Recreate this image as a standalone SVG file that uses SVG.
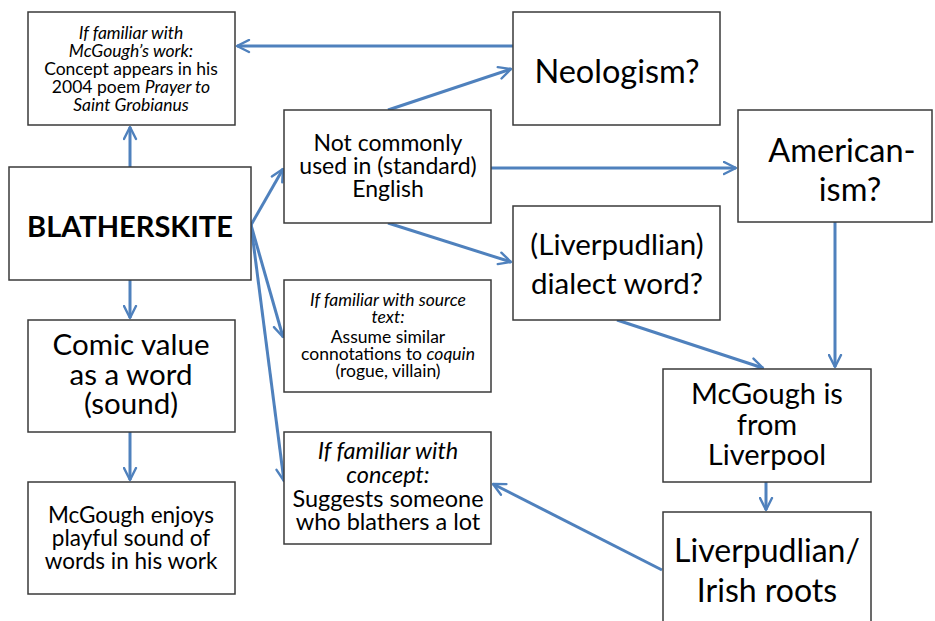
<svg xmlns="http://www.w3.org/2000/svg" width="935" height="621" viewBox="0 0 935 621">
  <defs>
    <marker id="arrow" viewBox="0 0 10 10" refX="9" refY="5" markerWidth="5" markerHeight="5" orient="auto" markerUnits="strokeWidth">
      <path d="M1,1 L9,5 L1,9" fill="none" stroke="#4f81bd" stroke-width="1.6" stroke-linecap="round" stroke-linejoin="round"/>
    </marker>
    <style>
      .box { fill: #ffffff; stroke: #3a3a3a; stroke-width: 1.5; }
      .t { font-family: Lato, "Open Sans", "Liberation Sans", sans-serif; fill: #000; text-anchor: middle; }
      .i { font-style: italic; }
      .b { font-weight: bold; }
      .conn line { stroke: #4f81bd; stroke-width: 3; fill: none; marker-end: url(#arrow); }
    </style>
  </defs>
  <rect width="935" height="621" fill="#ffffff"/>

  <g id="connectors" class="conn">
    <line x1="513" y1="46" x2="237" y2="46"/>
    <line x1="130" y1="167" x2="130" y2="127"/>
    <line x1="130" y1="280" x2="130" y2="318"/>
    <line x1="130" y1="432" x2="130" y2="480"/>
    <line x1="251" y1="225" x2="283" y2="169"/>
    <line x1="251" y1="225" x2="283" y2="337"/>
    <line x1="251" y1="225" x2="284" y2="481"/>
    <line x1="388" y1="110" x2="511" y2="69"/>
    <line x1="491" y1="168" x2="736" y2="168"/>
    <line x1="388" y1="223" x2="511" y2="262"/>
    <line x1="617" y1="320" x2="763" y2="368"/>
    <line x1="835" y1="222" x2="835" y2="367"/>
    <line x1="766" y1="482" x2="766" y2="510"/>
    <line x1="662" y1="570" x2="493" y2="484"/>
  </g>

  <g id="mcgough-work">
    <rect class="box" x="28" y="12" width="207" height="113"/>
    <text class="t i" x="131" y="39" font-size="17.5">If familiar with</text>
    <text class="t i" x="131" y="57" font-size="17.5">McGough’s work:</text>
    <text class="t" x="131" y="75" font-size="17.5">Concept appears in his</text>
    <text class="t" x="131" y="93" font-size="17.5">2004 poem <tspan class="i">Prayer to</tspan></text>
    <text class="t i" x="131" y="111" font-size="17.5">Saint Grobianus</text>
  </g>

  <g id="blatherskite">
    <rect class="box" x="9" y="167" width="242" height="113"/>
    <text class="t b" x="130" y="237" font-size="29">BLATHERSKITE</text>
  </g>

  <g id="comic-value">
    <rect class="box" x="28" y="320" width="207" height="112"/>
    <text class="t" x="131" y="355" font-size="29.5">Comic value</text>
    <text class="t" x="131" y="385" font-size="29.5">as a word</text>
    <text class="t" x="131" y="414" font-size="29.5">(sound)</text>
  </g>

  <g id="playful-sound">
    <rect class="box" x="28" y="482" width="207" height="112"/>
    <text class="t" x="131" y="523" font-size="22.5">McGough enjoys</text>
    <text class="t" x="131" y="546" font-size="22.5">playful sound of</text>
    <text class="t" x="131" y="569" font-size="22.5">words in his work</text>
  </g>

  <g id="not-common">
    <rect class="box" x="284" y="110" width="207" height="113"/>
    <text class="t" x="388" y="151" font-size="23">Not commonly</text>
    <text class="t" x="388" y="174" font-size="23">used in (standard)</text>
    <text class="t" x="388" y="197" font-size="23">English</text>
  </g>

  <g id="neologism">
    <rect class="box" x="513" y="12" width="207" height="113"/>
    <text class="t" x="617" y="83" font-size="32.5">Neologism?</text>
  </g>

  <g id="americanism">
    <rect class="box" x="738" y="110" width="194" height="112"/>
    <text class="t" x="842" y="162" font-size="32.5">American-</text>
    <text class="t" x="850" y="201" font-size="32.5">ism?</text>
  </g>

  <g id="dialect">
    <rect class="box" x="513" y="206" width="207" height="114"/>
    <text class="t" x="617" y="255" font-size="29.5">(Liverpudlian)</text>
    <text class="t" x="617" y="294" font-size="29.5">dialect word?</text>
  </g>

  <g id="source-text">
    <rect class="box" x="284" y="280" width="207" height="112"/>
    <text class="t i" x="388" y="306" font-size="17.5">If familiar with source</text>
    <text class="t i" x="388" y="323" font-size="17.5">text:</text>
    <text class="t" x="388" y="343" font-size="17.5">Assume similar</text>
    <text class="t" x="388" y="360" font-size="17.5">connotations to <tspan class="i">coquin</tspan></text>
    <text class="t" x="388" y="377" font-size="17.5">(rogue, villain)</text>
  </g>

  <g id="concept">
    <rect class="box" x="284" y="432" width="207" height="112"/>
    <text class="t i" x="388" y="459" font-size="23.5">If familiar with</text>
    <text class="t i" x="388" y="483" font-size="23.5">concept:</text>
    <text class="t" x="388" y="507" font-size="23.5">Suggests someone</text>
    <text class="t" x="388" y="530" font-size="23.5">who blathers a lot</text>
  </g>

  <g id="from-liverpool">
    <rect class="box" x="663" y="369" width="208" height="113"/>
    <text class="t" x="767" y="404" font-size="29">McGough is</text>
    <text class="t" x="767" y="435" font-size="29">from</text>
    <text class="t" x="767" y="465" font-size="29">Liverpool</text>
  </g>

  <g id="roots">
    <rect class="box" x="663" y="512" width="208" height="115"/>
    <text class="t" x="767" y="562" font-size="32">Liverpudlian/</text>
    <text class="t" x="767" y="602" font-size="32">Irish roots</text>
  </g>
</svg>
